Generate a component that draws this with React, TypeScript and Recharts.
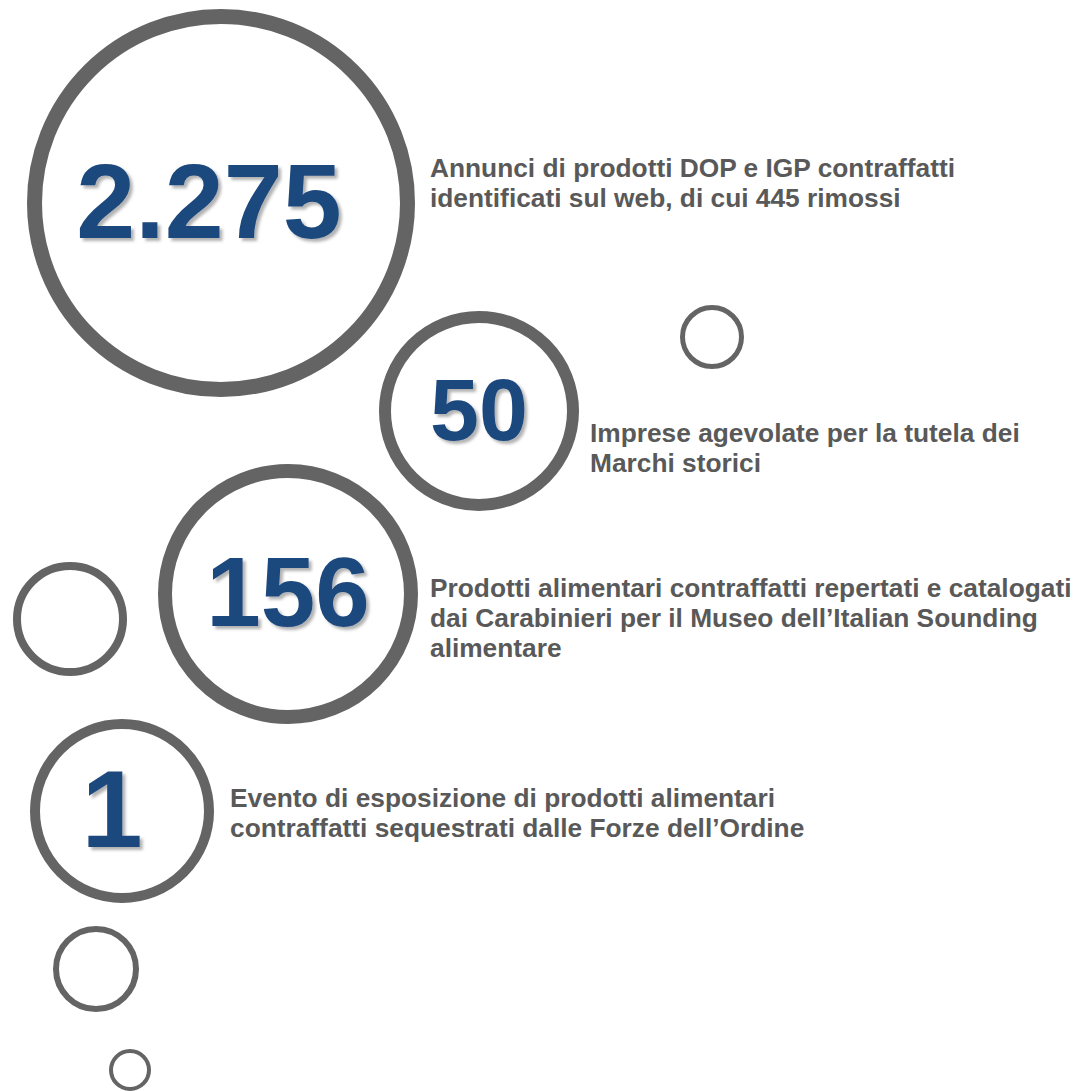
import React from "react";
import { ScatterChart, Scatter, XAxis, YAxis, ZAxis } from "recharts";

// ring centres and outer radii, in page pixels (x right, y down)
const circleX = [221, 712, 479, 288, 70, 122, 96, 130];
const circleY = [203, 337, 411, 594, 619, 811, 969, 1070];
const circleR = [194, 32, 100, 130, 57, 92, 43, 21];

// the four headline figures and the ring each one sits in
const statValues = ["2.275", "50", "156", "1"];
const statRing = [0, 2, 3, 5];

const labelLines = [
  ["Annunci di prodotti DOP e IGP contraffatti", "identificati sul web, di cui 445 rimossi"],
  ["Imprese agevolate per la tutela dei", "Marchi storici"],
  [
    "Prodotti alimentari contraffatti repertati e catalogati",
    "dai Carabinieri per il Museo dell\u2019Italian Sounding",
    "alimentare",
  ],
  ["Evento di esposizione di prodotti alimentari", "contraffatti sequestrati dalle Forze dell\u2019Ordine"],
];
const labelX = [430, 590, 430, 230];
const labelY = [177, 442, 597, 807];

// styling
const W = 1083;
const H = 1091;
const RING = "#646464";
const NUMBER = "#1F497D";
const TEXT = "#595959";
const FONT = "'Liberation Sans', Arial, sans-serif";
const ringStroke = [15, 5, 12, 14, 8, 10, 6, 4];
const numberSize = [106, 88, 98, 110];
const numberDx = [-12, 0, 0, -10];
const labelSize = 26.3;
const lineGap = 30;

const rings = circleX.map((x, i) => ({ x, y: circleY[i], r: circleR[i], idx: i }));
const numbers = statValues.map((v, i) => ({
  x: circleX[statRing[i]],
  y: circleY[statRing[i]],
  r: 1,
  value: v,
  idx: i,
}));
const labels = labelLines.map((lines, i) => ({ x: labelX[i], y: labelY[i], r: 1, lines }));

function RingShape(props: any) {
  const { cx, cy, size, payload } = props;
  const sw = ringStroke[payload.idx];
  return (
    <circle cx={cx} cy={cy} r={size - sw / 2} fill="none" stroke={RING} strokeWidth={sw} />
  );
}

function NumberShape(props: any) {
  const { cx, cy, payload } = props;
  const fs = numberSize[payload.idx];
  return (
    <text
      x={cx + numberDx[payload.idx]}
      y={cy + fs * 0.33}
      textAnchor="middle"
      fontFamily={FONT}
      fontWeight="bold"
      fontSize={fs}
      fill={NUMBER}
      filter="url(#numShadow)"
    >
      {payload.value}
    </text>
  );
}

function LabelShape(props: any) {
  const { cx, cy, payload } = props;
  return (
    <text x={cx} y={cy} fontFamily={FONT} fontWeight="bold" fontSize={labelSize} fill={TEXT}>
      {payload.lines.map((line: string, i: number) => (
        <tspan key={i} x={cx} y={cy + i * lineGap}>
          {line}
        </tspan>
      ))}
    </text>
  );
}

export default function App() {
  return (
    <div style={{ position: "absolute", left: 0, top: 0, width: W, height: H, background: "#fff" }}>
      <svg width={0} height={0} style={{ position: "absolute" }}>
        <defs>
          <filter id="numShadow" x="-10%" y="-10%" width="130%" height="130%">
            <feDropShadow dx={3} dy={3} stdDeviation={1.6} floodColor="#000" floodOpacity={0.3} />
          </filter>
        </defs>
      </svg>
      <ScatterChart width={W} height={H} margin={{ top: 0, right: 0, bottom: 0, left: 0 }}>
        <XAxis type="number" dataKey="x" domain={[0, W]} hide />
        <YAxis type="number" dataKey="y" domain={[0, H]} reversed hide />
        <ZAxis type="number" dataKey="r" domain={[0, 200]} range={[0, 200]} />
        <Scatter data={rings} shape={RingShape} isAnimationActive={false} />
        <Scatter data={numbers} shape={NumberShape} isAnimationActive={false} />
        <Scatter data={labels} shape={LabelShape} isAnimationActive={false} />
      </ScatterChart>
    </div>
  );
}
